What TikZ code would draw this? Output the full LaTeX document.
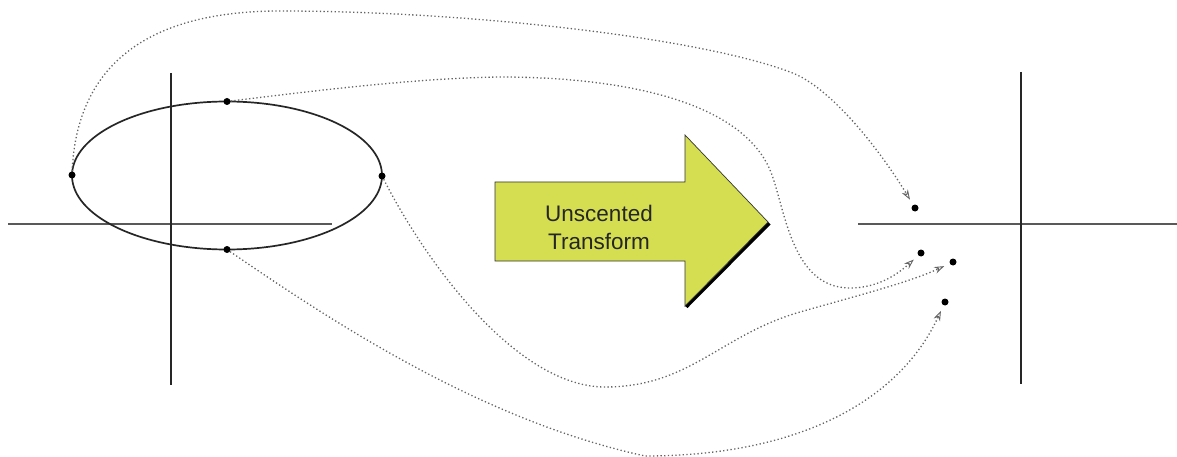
\documentclass[tikz,border=0pt]{standalone}
\usepackage{fontspec}
\setmainfont{Liberation Sans}
\usetikzlibrary{arrows.meta}
\definecolor{ukgreen}{RGB}{212,222,80}
\definecolor{conngray}{RGB}{100,100,100}
\tikzset{
  axisline/.style={line width=1.4pt, draw=black!85},
  ptdot/.style={circle, fill=black, inner sep=0pt, minimum size=7pt},
  conn/.style={draw=conngray, line width=1.3pt, dash pattern=on 1.3pt off 2.4pt,
    -{Stealth[open, length=10pt, width=7pt, line width=0.9pt]}, shorten >=6pt},
  blockarrow/.style={fill=ukgreen, draw=black!80, line width=0.7pt},
}
\begin{document}
\begin{tikzpicture}[x=1pt,y=-1pt]
\useasboundingbox (0,0) rectangle (1177,457);
% left axes
\draw[axisline, draw=black!65, line width=1.8pt] (8,224) -- (332,224);
\draw[axisline] (171,73) -- (171,385);
% ellipse
\draw[line width=1.7pt, draw=black!85] (227,175.5) ellipse [x radius=155, y radius=74];
\node[ptdot] (pL) at (72,175) {};
\node[ptdot] (pR) at (382,176) {};
\node[ptdot] (pT) at (227,101.5) {};
\node[ptdot] (pB) at (227,249.5) {};
% right axes
\draw[axisline, draw=black!65, line width=1.8pt] (858,224) -- (1177,224);
\draw[axisline] (1021,72) -- (1021,384);
% output points
\node[ptdot] (q1) at (915,208) {};
\node[ptdot] (q2) at (921,253) {};
\node[ptdot] (q3) at (953,262) {};
\node[ptdot] (q4) at (945,302) {};
% block arrow
\fill[black] (768,222) -- (770.5,224.5) -- (687.5,308) -- (685,306) -- cycle;
\draw[blockarrow] (495,182) -- (685,182) -- (685,135) -- (768,222) -- (685,306) -- (685,261) -- (495,261) -- cycle;
\node[align=center, font=\fontsize{22.5}{28}\selectfont, text=black!85] (ut) at (599,227) {Unscented\\Transform};
% connectors
\draw[conn] (pL) .. controls (76,80) and (130,11) .. (280,11)
  .. controls (470,11) and (700,38) .. (790,72)
  .. controls (830,86) and (880,150) .. (q1);
\draw[conn] (pT) .. controls (320,90) and (420,78) .. (500,77)
  .. controls (620,77) and (740,100) .. (770,170)
  .. controls (785,205) and (790,288) .. (850,288)
  .. controls (880,288) and (900,272) .. (q2);
\draw[conn] (pR) .. controls (430,270) and (520,387) .. (605,387)
  .. controls (690,387) and (720,335) .. (800,312)
  .. controls (860,295) and (910,282) .. (q3);
\draw[conn] (pB) .. controls (330,320) and (480,420) .. (645,456)
  .. controls (800,456) and (900,400) .. (q4);
\end{tikzpicture}
\end{document}
